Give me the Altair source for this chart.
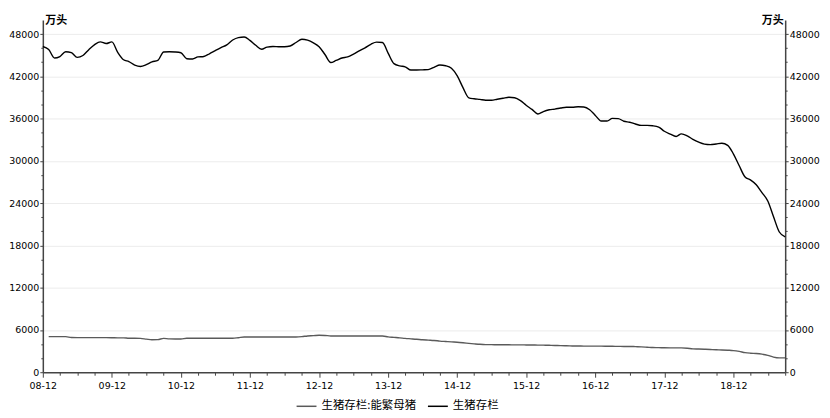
import altair as alt
import pandas as pd

# ---- data ----
total_start = "2008-12-01"
total_values = [
    46230, 45800, 44590, 44800, 45480, 45350, 44680, 44950, 45780, 46500, 46890, 46650, 46880,
    45400, 44350, 44100, 43600, 43400, 43650, 44050, 44250, 45450, 45480, 45450, 45350,
    44500, 44450, 44750, 44820, 45200, 45650, 46070, 46470, 47150, 47500, 47580, 47100,
    46400, 45850, 46150, 46230, 46200, 46190, 46300, 46800, 47250, 47130, 46750, 46200,
    45100, 43950, 44250, 44600, 44760, 45150, 45600, 46050, 46550, 46850, 46800, 45300,
    43800, 43480, 43350, 42890, 42890, 42920, 42950, 43280, 43600, 43500, 43150, 42100,
    40400, 38950, 38810, 38720, 38600, 38600, 38750, 38890, 39030, 38960, 38550, 37900,
    37300, 36650, 37000, 37250, 37350, 37500, 37610, 37610, 37680, 37650, 37250, 36450,
    35650, 35650, 36030, 36000, 35620, 35480, 35230, 35030, 35030, 34980, 34800, 34200,
    33800, 33460, 33830, 33550, 33050, 32650, 32380, 32310, 32400, 32500, 32200, 31000,
    29300, 27700, 27300, 26600, 25500, 24300, 22100, 19900, 19200,
]
sow_start = "2009-01-01"
sow_values = [
    5050, 5050, 5050, 5050, 4920, 4910, 4910, 4910, 4910, 4910, 4910, 4900,
    4880, 4880, 4820, 4820, 4800, 4700, 4600, 4620, 4800, 4730, 4720, 4720,
    4820, 4820, 4820, 4820, 4820, 4820, 4820, 4820, 4820, 4900, 5000, 5000,
    5000, 5000, 5000, 5000, 5000, 5000, 5000, 5000, 5050, 5150, 5190, 5250,
    5220, 5150, 5140, 5140, 5140, 5140, 5140, 5140, 5140, 5140, 5140, 5020,
    4950, 4880, 4800, 4740, 4680, 4600, 4550, 4500, 4420, 4360, 4300, 4250,
    4180, 4100, 4030, 3960, 3920, 3910, 3900, 3890, 3890, 3880, 3880, 3870,
    3860, 3850, 3840, 3820, 3800, 3770, 3750, 3730, 3720, 3710, 3700, 3700,
    3700, 3690, 3680, 3670, 3660, 3660, 3630, 3600, 3550, 3500, 3490, 3470,
    3460, 3460, 3450, 3400, 3310, 3290, 3260, 3220, 3180, 3160, 3120, 3070,
    2950, 2780, 2700, 2650, 2560, 2400, 2150, 2030, 2030,
]
series_names = ["生猪存栏:能繁母猪", "生猪存栏"]
series_colors = ["#5a5a5a", "#000000"]
y_unit = "万头"
y_ticks = list(range(0, 48001, 2000))
x_tick_dates = pd.date_range("2008-12-01", "2019-09-01", freq="3MS")

# ---- table ----
total_dates = pd.date_range(total_start, periods=len(total_values), freq="MS")
sow_dates = pd.date_range(sow_start, periods=len(sow_values), freq="MS")
df = pd.concat([
    pd.DataFrame({"date": sow_dates.strftime("%Y-%m-%d"), "value": sow_values, "series": series_names[0]}),
    pd.DataFrame({"date": total_dates.strftime("%Y-%m-%d"), "value": total_values, "series": series_names[1]}),
], ignore_index=True)

x_values = [alt.DateTime(year=d.year, month=d.month, date=1, utc=True) for d in x_tick_dates]
x_dom = [alt.DateTime(year=2008, month=12, date=1, utc=True),
         alt.DateTime(year=2019, month=9, date=1, utc=True)]

num_font = "DejaVu Sans"
cjk_font = "Noto Sans CJK SC"
axis_col = "#444444"

x_enc = alt.X(
    "date:T",
    scale=alt.Scale(type="utc", domain=x_dom),
    axis=alt.Axis(
        values=x_values,
        labelExpr="utcFormat(datum.value, '%m') == '12' ? utcFormat(datum.value, '%y-%m') : ''",
        tickSize={"condition": {"test": "utcFormat(datum.value, '%m') == '12'", "value": 5}, "value": 3},
        grid=False, title=None, labelFlush=False, labelOverlap=False,
        labelFont=num_font, labelFontSize=9.5, labelColor="black", labelPadding=3,
        domainColor=axis_col, domainWidth=1.5, tickColor=axis_col, tickWidth=1,
    ),
)

def y_axis(orient, tx, align):
    return alt.Axis(
        orient=orient,
        values=y_ticks,
        labelExpr="datum.value % 6000 == 0 ? format(datum.value, 'd') : ''",
        tickSize={"condition": {"test": "datum.value % 6000 == 0", "value": 3}, "value": 2},
        grid=(orient == "left"),
        gridColor="#ececec",
        gridOpacity={"condition": {"test": "datum.value % 6000 == 0 && datum.value > 0", "value": 1}, "value": 0},
        labelOverlap=False, labelFlush=False,
        labelFont=num_font, labelFontSize=9.5, labelColor="black", labelPadding=1,
        domainColor=axis_col, domainWidth=1.5, tickColor=axis_col, tickWidth=1,
        title=y_unit, titleAngle=0, titleX=tx, titleY=6, titleAlign=align,
        titleBaseline="bottom", titleFont=cjk_font, titleFontSize=11,
        titleFontWeight="bold", titleColor="black",
    )

y_scale = alt.Scale(domain=[0, 50000], nice=False, zero=True)

lines = alt.Chart(df).mark_line(strokeWidth=1.4, interpolate="monotone").encode(
    x=x_enc,
    y=alt.Y("value:Q", scale=y_scale, axis=y_axis("left", 2, "left")),
    color=alt.Color(
        "series:N",
        scale=alt.Scale(domain=series_names, range=series_colors),
        legend=alt.Legend(
            orient="none", legendX=254, legendY=377, direction="horizontal",
            title=None, symbolType="stroke", symbolSize=400, symbolStrokeWidth=1.5,
            labelFont=cjk_font, labelFontSize=11.5, labelColor="black",
            columnPadding=8, labelOffset=4,
        ),
    ),
    detail="series:N",
)

right = alt.Chart(df).mark_line(opacity=0).encode(
    x=x_enc,
    y=alt.Y("value:Q", scale=y_scale, axis=y_axis("right", -2, "right")),
    detail="series:N",
)

chart = alt.layer(lines, right).resolve_scale(y="independent").properties(
    width=746, height=354,
    autosize=alt.AutoSizeParams(type="none"),
    padding={"left": 35, "top": 11, "right": 37, "bottom": 44},
    background="white",
).configure_view(stroke=None)

chart.save("out.html", embed_options={"renderer": "svg", "actions": False})
